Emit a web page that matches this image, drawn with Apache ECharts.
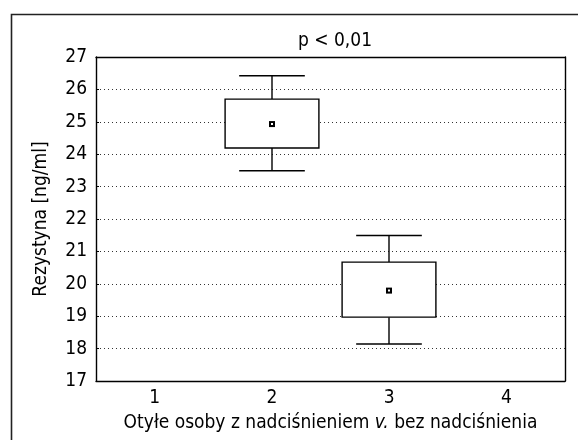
<!DOCTYPE html>
<html>
<head>
<meta charset="utf-8">
<script src="https://cdn.jsdelivr.net/npm/echarts@6/dist/echarts.min.js"></script>
<style>
html,body{margin:0;padding:0;background:#fff;}
#c{width:578px;height:440px;}
</style>
</head>
<body>
<div id="c"></div>
<script>
const categories = ['1', '2', '3', '4'];
const groupIndex = [1, 2];
const whiskerMin = [23.49, 18.14];
const boxLow = [24.19, 18.97];
const boxHigh = [25.70, 20.67];
const whiskerMax = [26.42, 21.49];
const means = [24.93, 19.79];
const yTicks = [17, 18, 19, 20, 21, 22, 23, 24, 25, 26, 27];

const FONT = '"Liberation Sans Narrow", "Arial Narrow", "DejaVu Sans Condensed", sans-serif';

const data = groupIndex.map((g, i) => [g, whiskerMin[i], boxLow[i], boxHigh[i], whiskerMax[i], means[i]]);

const chart = echarts.init(document.getElementById('c'), null, {renderer: 'canvas'});

function renderItem(params, api) {
  const x = api.value(0);
  const bw = api.size([1, 0])[0];
  const pMin = api.coord([x, api.value(1)]);
  const pLow = api.coord([x, api.value(2)]);
  const pHigh = api.coord([x, api.value(3)]);
  const pMax = api.coord([x, api.value(4)]);
  const pMean = api.coord([x, api.value(5)]);
  const cx = Math.round(pMin[0]);
  const halfBox = bw * 0.4;
  const halfCap = bw * 0.28;
  const stroke = {stroke: '#000', lineWidth: 1.4, fill: null};
  return {
    type: 'group',
    children: [
      {type: 'line', shape: {x1: cx, y1: pMax[1], x2: cx, y2: pHigh[1]}, style: stroke},
      {type: 'line', shape: {x1: cx, y1: pLow[1], x2: cx, y2: pMin[1]}, style: stroke},
      {type: 'line', shape: {x1: cx - halfCap, y1: pMax[1], x2: cx + halfCap, y2: pMax[1]}, style: stroke},
      {type: 'line', shape: {x1: cx - halfCap, y1: pMin[1], x2: cx + halfCap, y2: pMin[1]}, style: stroke},
      {type: 'rect', shape: {x: cx - halfBox, y: pHigh[1], width: halfBox * 2, height: pLow[1] - pHigh[1]},
        style: {stroke: '#000', lineWidth: 1.4, fill: '#fff'}},
      {type: 'rect', shape: {x: cx - 3, y: pMean[1] - 3, width: 6, height: 6}, style: {fill: '#000'}},
      {type: 'rect', shape: {x: cx - 1, y: pMean[1] - 1, width: 2, height: 2}, style: {fill: '#fff'}}
    ]
  };
}

const option = {
  animation: false,
  backgroundColor: '#fff',
  textStyle: {fontFamily: FONT},
  title: {
    text: 'p < 0,01',
    left: 330, top: 27, textAlign: 'center',
    textStyle: {fontFamily: FONT, fontSize: 19, fontWeight: 'normal', color: '#000'}
  },
  graphic: [{
    type: 'rect', left: 9, top: 12, silent: true,
    shape: {x: 0, y: 0, width: 620, height: 480},
    style: {fill: null, stroke: '#222', lineWidth: 1.6}
  }],
  grid: {left: 96, right: 13, top: 57, bottom: 59},
  xAxis: [{
    type: 'category', data: categories, position: 'bottom',
    axisLine: {lineStyle: {color: '#000', width: 1.4}},
    axisTick: {inside: true, alignWithLabel: true, length: 4, lineStyle: {color: '#000'}},
    axisLabel: {fontFamily: FONT, fontSize: 19, color: '#000', margin: 8},
    name: 'Otyłe osoby z nadciśnieniem {i|v.} bez nadciśnienia',
    nameLocation: 'middle', nameGap: 33,
    nameTextStyle: {fontFamily: FONT, fontSize: 19, color: '#000',
      rich: {i: {fontStyle: 'italic', fontFamily: FONT, fontSize: 19, color: '#000'}}},
    splitLine: {show: false}
  }, {
    type: 'category', data: categories, position: 'top',
    axisLine: {lineStyle: {color: '#000', width: 1.4}},
    axisTick: {inside: true, alignWithLabel: true, length: 4, lineStyle: {color: '#000'}},
    axisLabel: {show: false}
  }],
  yAxis: [{
    type: 'value', min: 17, max: 27, interval: 1, position: 'left',
    axisLine: {show: true, lineStyle: {color: '#000', width: 1.4}},
    axisTick: {show: true, inside: true, length: 3, lineStyle: {color: '#000'}},
    axisLabel: {fontFamily: FONT, fontSize: 19, color: '#000', margin: 9,
      customValues: yTicks},
    name: 'Rezystyna [ng/ml]', nameLocation: 'middle', nameGap: 45,
    nameTextStyle: {fontFamily: FONT, fontSize: 19, color: '#000'},
    splitLine: {show: true, lineStyle: {color: '#333', width: 1, type: [1, 3]}}
  }, {
    type: 'value', min: 17, max: 27, interval: 1, position: 'right',
    axisLine: {show: true, lineStyle: {color: '#000', width: 1.4}},
    axisTick: {show: false}, axisLabel: {show: false}, splitLine: {show: false}
  }],
  series: [{
    type: 'custom',
    renderItem: renderItem,
    xAxisIndex: 0, yAxisIndex: 0,
    encode: {x: 0, y: [1, 2, 3, 4, 5]},
    data: data,
    z: 5
  }]
};
chart.setOption(option);
</script>
</body>
</html>
